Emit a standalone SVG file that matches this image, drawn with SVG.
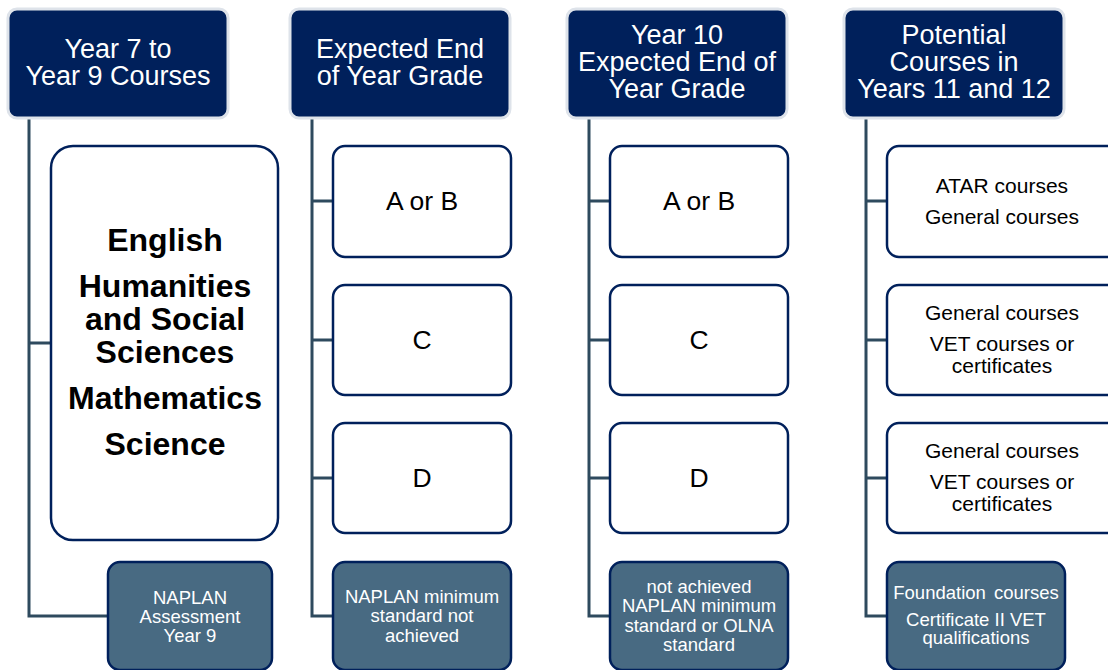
<svg xmlns="http://www.w3.org/2000/svg" width="1108" height="670" viewBox="0 0 1108 670">
<style>
.hdr{fill:#00205B;stroke:#DEE3EA;stroke-width:3}
.box{fill:#FFFFFF;stroke:#00205B;stroke-width:2.5}
.low{fill:#486A82;stroke:#00205B;stroke-width:2.5}
.conn path{fill:none;stroke:#2E4A5E;stroke-width:3}
text{font-family:"Liberation Sans",Arial,sans-serif;text-anchor:middle}
.ht{fill:#FFFFFF;font-size:27px}
.bt{fill:#000000;font-size:32px;font-weight:bold}
.gt{fill:#000000;font-size:26.5px}
.ct{fill:#000000;font-size:21px}
.lt{fill:#FFFFFF;font-size:18.5px}
</style>
<rect width="1108" height="670" fill="#FFFFFF"/>
<g id="connectors" class="conn">
<path d="M29,118 V616 H108 M29,343 H51"/>
<path d="M312,118 V616 H333 M312,201 H333 M312,340 H333 M312,478 H333"/>
<path d="M589,118 V616 H610 M589,201 H610 M589,340 H610 M589,478 H610"/>
<path d="M866,118 V616 H887 M866,201 H887 M866,340 H887 M866,478 H887"/>
</g>
<g id="h1"><rect class="hdr" x="8" y="9" width="220" height="109" rx="9"/>
<text class="ht" x="118" y="58">Year 7 to</text><text class="ht" x="118" y="85">Year 9 Courses</text></g>
<g id="h2"><rect class="hdr" x="290" y="9" width="220" height="109" rx="9"/>
<text class="ht" x="400" y="58">Expected End</text><text class="ht" x="400" y="85">of Year Grade</text></g>
<g id="h3"><rect class="hdr" x="567" y="9" width="220" height="109" rx="9"/>
<text class="ht" x="677" y="44">Year 10</text><text class="ht" x="677" y="71">Expected End of</text><text class="ht" x="677" y="98">Year Grade</text></g>
<g id="h4"><rect class="hdr" x="844" y="9" width="220" height="109" rx="9"/>
<text class="ht" x="954" y="44">Potential</text><text class="ht" x="954" y="71">Courses in</text><text class="ht" x="954" y="98">Years 11 and 12</text></g>
<g id="subjects"><rect class="box" x="51" y="146" width="227" height="394" rx="22"/>
<text class="bt" x="165" y="251">English</text>
<text class="bt" x="165" y="297">Humanities</text>
<text class="bt" x="165" y="330">and Social</text>
<text class="bt" x="165" y="363">Sciences</text>
<text class="bt" x="165" y="409">Mathematics</text>
<text class="bt" x="165" y="455">Science</text></g>
<g id="naplan9"><rect class="low" x="108" y="562" width="164" height="108" rx="12"/>
<text class="lt" x="190" y="604">NAPLAN</text><text class="lt" x="190" y="623">Assessment</text><text class="lt" x="190" y="642">Year 9</text></g>
<g id="g2ab"><rect class="box" x="333" y="146" width="178" height="111" rx="12"/><text class="gt" x="422" y="210">A or B</text></g>
<g id="g2c"><rect class="box" x="333" y="285" width="178" height="110" rx="12"/><text class="gt" x="422" y="349">C</text></g>
<g id="g2d"><rect class="box" x="333" y="423" width="178" height="110" rx="12"/><text class="gt" x="422" y="487">D</text></g>
<g id="g2n"><rect class="low" x="333" y="562" width="178" height="108" rx="12"/>
<text class="lt" x="422" y="603">NAPLAN minimum</text><text class="lt" x="422" y="622">standard not</text><text class="lt" x="422" y="642">achieved</text></g>
<g id="g3ab"><rect class="box" x="610" y="146" width="178" height="111" rx="12"/><text class="gt" x="699" y="210">A or B</text></g>
<g id="g3c"><rect class="box" x="610" y="285" width="178" height="110" rx="12"/><text class="gt" x="699" y="349">C</text></g>
<g id="g3d"><rect class="box" x="610" y="423" width="178" height="110" rx="12"/><text class="gt" x="699" y="487">D</text></g>
<g id="g3n"><rect class="low" x="610" y="562" width="178" height="108" rx="12"/>
<text class="lt" x="699" y="593">not achieved</text><text class="lt" x="699" y="612">NAPLAN minimum</text><text class="lt" x="699" y="632">standard or OLNA</text><text class="lt" x="699" y="651">standard</text></g>
<g id="c1"><rect class="box" x="887" y="146" width="240" height="111" rx="12"/>
<text class="ct" x="1002" y="193">ATAR courses</text><text class="ct" x="1002" y="224">General courses</text></g>
<g id="c2"><rect class="box" x="887" y="285" width="240" height="110" rx="12"/>
<text class="ct" x="1002" y="320">General courses</text><text class="ct" x="1002" y="351">VET courses or</text><text class="ct" x="1002" y="373">certificates</text></g>
<g id="c3"><rect class="box" x="887" y="423" width="240" height="110" rx="12"/>
<text class="ct" x="1002" y="458">General courses</text><text class="ct" x="1002" y="489">VET courses or</text><text class="ct" x="1002" y="511">certificates</text></g>
<g id="c4"><rect class="low" x="887" y="562" width="178" height="108" rx="12"/>
<text class="lt" x="976" y="599" word-spacing="3">Foundation courses</text><text class="lt" x="976" y="626">Certificate II VET</text><text class="lt" x="976" y="644">qualifications</text></g>
</svg>
